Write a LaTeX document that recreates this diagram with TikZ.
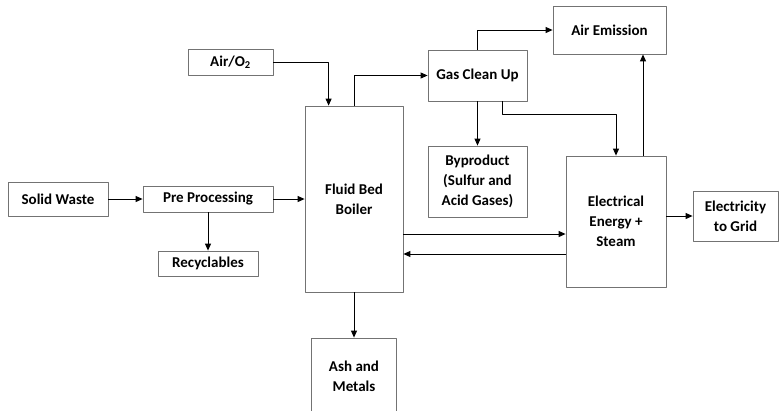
\documentclass[tikz,border=0pt]{standalone}
\usepackage{fontspec}
\setmainfont{Carlito}
\usetikzlibrary{arrows.meta}
\begin{document}
\begin{tikzpicture}[x=1pt,y=-1pt,>={Triangle[length=7pt,width=6pt]},line join=round,
	font=\fontsize{15}{20}\selectfont\bfseries,
	box/.style={draw=black!55,line width=0.8pt,align=center,inner sep=2pt},
	flow/.style={->,line width=0.9pt}]
				\useasboundingbox (0,0) rectangle (782,410);
				\node[box,minimum width=100pt,minimum height=34pt] (waste) at (58,199) {Solid Waste};
				\node[box,minimum width=130pt,minimum height=26pt] (pre) at (208,199) {Pre Processing};
				\node[box,minimum width=100pt,minimum height=25pt] (recyc) at (208,263.5) {Recyclables};
				\node[box,minimum width=85pt,minimum height=26pt] (air) at (230.5,62) {Air/O\textsubscript{2}};
				\node[box,minimum width=98pt,minimum height=186pt] (boiler) at (354,199) {Fluid Bed\\Boiler};
				\node[box,minimum width=99pt,minimum height=51pt] (gas) at (477.5,75.5) {Gas Clean Up};
				\node[box,minimum width=113pt,minimum height=48pt] (emis) at (609.5,30) {Air Emission};
				\node[box,minimum width=99pt,minimum height=71pt] (byprod) at (477.5,181.5) {Byproduct\\(Sulfur and\\Acid Gases)};
				\node[box,minimum width=100pt,minimum height=131pt] (elec) at (616,221.5) {Electrical\\Energy +\\Steam};
				\node[box,minimum width=85pt,minimum height=76pt] (ash) at (354,376) {Ash and\\Metals};
				\node[box,minimum width=85pt,minimum height=50pt] (grid) at (735.5,216) {Electricity\\to Grid};
				% feed line
				\draw[flow] (waste.east) -- (pre.west);
				\draw[flow] (pre.east) -- (boiler.west);
				\draw[flow] (pre.south) -- (recyc.north);
				\draw[flow] (air.east) -| ([xshift=24pt]boiler.north west);
				% gas side
				\draw[flow] (boiler.north) |- (gas.west);
				\draw[flow] (gas.north) |- (emis.west);
				\draw[flow] (gas.south) -- (byprod.north);
				\draw[flow] ([xshift=25pt]gas.south) -- ++(0,13) -| (elec.north);
				\coordinate (up) at ([xshift=27pt]elec.north);
				\draw[flow] (up) -- (up |- emis.south);
				% energy loop
				\coordinate (b1) at ([yshift=-12.5pt]elec.west);
				\coordinate (b2) at ([yshift=-32.5pt]elec.west);
				\draw[flow] (b1 -| boiler.east) -- (b1);
				\draw[flow] (b2) -- (b2 -| boiler.east);
				\draw[flow] (elec.east |- grid.west) -- (grid.west);
				\draw[flow] (boiler.south) -- (ash.north);
			\end{tikzpicture}
\end{document}
